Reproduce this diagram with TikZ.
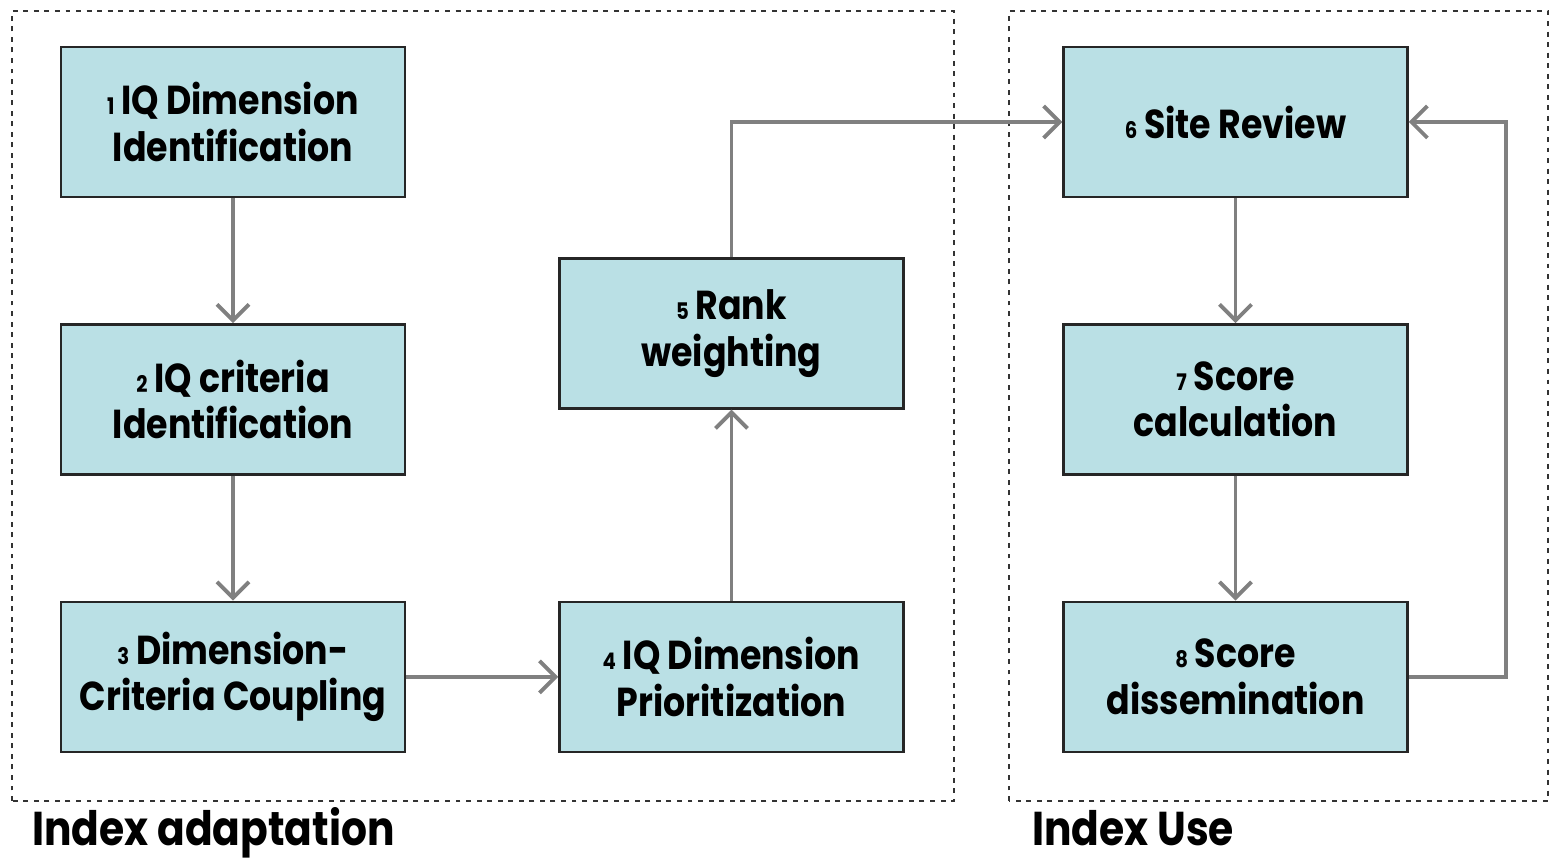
\documentclass[tikz,border=0pt]{standalone}
\usepackage{fontspec}
\usepackage{xcolor}
\usepackage{tikz}
\usetikzlibrary{positioning,arrows.meta}
\newfontfamily\stepfont{Poppins}[FakeStretch=0.86]
\definecolor{boxfill}{HTML}{BAE0E5}
\definecolor{flowgray}{HTML}{808080}
\newcommand{\stepno}[1]{{\fontsize{6.5}{8}\selectfont #1}\,}

\begin{document}
\begin{tikzpicture}[
  stepbox/.style={draw=black!85,line width=0.7pt,fill=boxfill,minimum width=3.44cm,minimum height=1.5cm,
    align=center,inner sep=0pt,font=\stepfont\bfseries\fontsize{11.5}{13.2}\selectfont},
  flow/.style={draw=flowgray,line width=1.1pt,-{Straight Barb[length=1.6mm,width=3.2mm,line width=1.1pt]}},
  frame/.style={draw=black!80,line width=0.5pt,dash pattern=on 1.4pt off 1.6pt},
  phase/.style={anchor=base west,font=\stepfont\bfseries\fontsize{13.5}{16}\selectfont}]
  \useasboundingbox (0,0) rectangle (15.5,8.58);
  % the two phases
  \draw[frame] (0.12,0.57) rectangle (9.54,8.47);
  \draw[frame] (10.09,0.57) rectangle (15.48,8.47);
  \node[phase] (adapt) at (0.2,0.12) {Index adaptation};
  \node[phase] (use) at (10.2,0.12) {Index Use};
  % steps of index adaptation
  \node[stepbox] (s1) at (2.33,7.36) {\stepno{1}IQ Dimension\\Identification};
  \node[stepbox,below=1.25cm of s1] (s2) {\stepno{2}IQ criteria\\Identification};
  \node[stepbox,below=1.25cm of s2] (s3) {\stepno{3}Dimension-\\Criteria Coupling};
  \node[stepbox,right=1.52cm of s3] (s4) {\stepno{4}IQ Dimension\\Prioritization};
  \node[stepbox,above=1.91cm of s4] (s5) {\stepno{5}Rank\\weighting};
  % steps of index use
  \node[stepbox] (s6) at (12.355,7.36) {\stepno{6}Site Review};
  \node[stepbox,below=1.25cm of s6] (s7) {\stepno{7}Score\\calculation};
  \node[stepbox,below=1.25cm of s7] (s8) {\stepno{8}Score\\dissemination};
  \coordinate (back) at (15.06,0);
  % connectors
  \draw[flow] (s1) -- (s2);
  \draw[flow] (s2) -- (s3);
  \draw[flow] (s3) -- (s4);
  \draw[flow] (s4) -- (s5);
  \draw[flow] (s5.north) |- (s6.west);
  \draw[flow] (s6) -- (s7);
  \draw[flow] (s7) -- (s8);
  \draw[flow] (s8.east) -- (s8.east -| back) |- (s6.east);
\end{tikzpicture}
\end{document}
